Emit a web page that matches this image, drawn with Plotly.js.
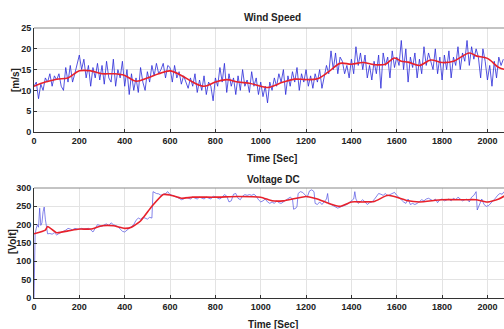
<!DOCTYPE html>
<html>
<head>
<meta charset="utf-8">
<script src="https://cdn.plot.ly/plotly-3.0.1.min.js"></script>
<style>html,body{margin:0;padding:0;background:#fff;}#chart{width:504px;height:329px;}</style>
</head>
<body>
<div id="chart"></div>
<script>
// Wind speed, raw (every 10 s from 0)
const windRaw = [
 11, 12, 8, 11.5, 10, 13, 12, 14, 11, 13.5,
 12.5, 14, 11, 10, 15.5, 12, 16, 12, 14, 16.5,
 18.5, 15, 17.5, 13, 16, 11, 15.5, 13, 16.5, 12.5,
 16, 11.5, 17, 13, 12, 17.5, 11, 15, 13, 17,
 11, 15, 9, 14, 10, 13, 9.5, 15.5, 12, 10,
 14.5, 12, 16, 13.5, 16.5, 14, 15, 16.5, 13, 16,
 15.5, 12, 16, 13, 14.5, 11.5, 13.5, 12, 10.5, 13,
 11, 14, 9.5, 12.5, 10, 13.5, 9, 12, 11, 7.5,
 13, 11, 15.5, 12, 16.5, 9.5, 14, 11, 13, 9,
 13.5, 10, 15, 11, 12.5, 9.5, 14.5, 11, 13, 9,
 12, 8.5, 11, 7, 12, 10, 13, 11, 14, 12,
 15, 9, 13.5, 11, 14.5, 12, 15.5, 10, 14, 12,
 15, 11, 13.5, 10.5, 14, 12, 15, 10.5, 13, 16,
 14, 19.5, 15, 19, 14, 18, 17, 14, 16, 13,
 17.5, 14, 20.5, 16, 19, 15, 18.5, 13, 16, 12.5,
 17, 14, 18.5, 10.5, 19, 16, 18, 13, 19.5, 15.5,
 18, 16, 22, 15, 20, 12, 18, 15.5, 19, 13,
 17.5, 14, 20.5, 16, 19, 17, 15, 20, 14, 18,
 12.5, 18.5, 15, 19.5, 13, 18, 16, 20.5, 15, 19,
 17, 22, 16, 20.5, 17.5, 20, 18, 13, 20, 17,
 12.5, 16, 11, 17, 13, 18, 16, 17.5
];
const windRawTime = windRaw.map((v, i) => i * 10);

// Wind speed, smoothed
const windSmoothTime = [0,50,100,150,200,250,300,350,400,450,500,550,600,650,700,750,800,850,900,950,1000,1030,1100,1150,1200,1250,1300,1350,1400,1450,1500,1550,1590,1620,1650,1700,1750,1800,1850,1920,1950,2000,2050,2080];
const windSmooth = [11,12,12.7,13,14.7,14.7,14,14,13.6,12.2,13,14,14.7,13.6,12,11,12,12.6,12,11.7,11,10.7,12,12.7,12.6,12.8,14.5,16.5,16.3,16.7,16.2,16.3,17.8,17,16.8,16,17.3,16.7,17,19,18.3,17.7,15.5,15];

// Voltage DC, raw
const voltRawTime = [0,5,10,15,20,25,30,35,40,45,50,55,60,70,80,90,100,110,120,130,140,150,160,170,180,190,200,210,220,230,240,250,260,270,280,290,300,310,320,330,340,350,360,370,380,390,400,410,420,430,440,450,460,470,480,490,500,510,520,525,530,540,550,560,570,580,590,600,610,620,630,640,650,660,670,680,690,700,710,720,730,740,750,760,770,780,790,800,810,820,830,840,850,860,870,880,890,900,910,920,930,940,950,960,970,980,990,1000,1010,1020,1030,1040,1050,1060,1070,1080,1090,1100,1110,1120,1130,1140,1145,1155,1160,1165,1175,1185,1195,1205,1215,1225,1235,1240,1250,1260,1270,1280,1290,1295,1300,1310,1320,1330,1340,1350,1360,1370,1380,1390,1400,1410,1415,1420,1430,1440,1450,1460,1470,1480,1490,1500,1510,1520,1530,1540,1550,1560,1570,1580,1590,1600,1610,1620,1630,1640,1650,1660,1670,1680,1690,1700,1710,1720,1730,1740,1750,1760,1770,1780,1790,1800,1810,1820,1830,1840,1850,1860,1870,1880,1890,1900,1910,1920,1930,1940,1950,1955,1965,1975,1985,1995,2005,2015,2025,2035,2045,2055,2065,2073];
const voltRaw = [0,175,190,200,193,245,198,205,235,248,215,200,175,176,174,178,172,176,180,182,185,190,188,186,190,188,187,190,188,189,190,186,180,190,200,198,195,200,202,198,205,200,198,195,188,182,180,185,190,195,200,212,218,215,220,218,215,220,218,290,288,285,284,280,283,285,290,282,280,278,275,272,268,270,275,272,270,275,273,270,275,272,270,275,273,270,278,275,272,270,275,282,278,262,265,283,285,272,268,278,282,280,282,280,283,278,268,262,265,270,262,258,262,258,265,260,258,262,268,272,275,270,242,245,250,285,290,288,280,275,292,295,290,258,255,262,255,262,270,285,260,255,252,250,245,248,250,252,255,260,265,270,290,270,258,262,268,262,255,260,262,268,278,285,283,280,285,278,282,285,288,280,275,268,262,258,270,255,258,255,258,262,268,265,270,272,268,265,270,260,268,270,265,268,270,265,272,268,275,270,265,268,270,262,275,280,290,240,255,270,255,250,252,258,265,272,280,285,283,290];

// Voltage DC, smoothed
const voltSmoothTime = [0,50,60,100,150,200,250,300,350,400,430,470,520,570,600,650,700,800,900,1000,1050,1100,1200,1250,1300,1350,1400,1450,1500,1560,1600,1650,1700,1800,1900,1950,2000,2050,2080];
const voltSmooth = [175,185,195,178,183,188,188,197,197,190,193,210,250,282,281,272,275,275,277,275,265,265,277,270,258,250,262,262,263,280,275,265,262,268,268,268,262,270,280];

const xTicks = [0,200,400,600,800,1000,1200,1400,1600,1800,2000];

const FONT = '"Liberation Sans Narrow", "Arial Narrow", "Liberation Sans", Arial, sans-serif';
const blue = '#2a2ad8';
const red = '#e8212b';

const traces = [
  {x: windRawTime, y: windRaw, xaxis: 'x', yaxis: 'y', mode: 'lines', line: {color: blue, width: 0.8}, hoverinfo: 'skip'},
  {x: windSmoothTime, y: windSmooth, xaxis: 'x', yaxis: 'y', mode: 'lines', line: {color: red, width: 1.6, shape: 'spline'}, hoverinfo: 'skip'},
  {x: voltRawTime, y: voltRaw, xaxis: 'x2', yaxis: 'y2', mode: 'lines', line: {color: '#4a4ae0', width: 0.8}, opacity: 0.85, hoverinfo: 'skip'},
  {x: voltSmoothTime, y: voltSmooth, xaxis: 'x2', yaxis: 'y2', mode: 'lines', line: {color: red, width: 1.6, shape: 'spline', smoothing: 0.5}, hoverinfo: 'skip'}
];

const H = 329;
const py = p => 1 - p / H;
const axX = (anchor) => ({
  range: [0, 2073], anchor: anchor, tickvals: xTicks, ticktext: xTicks.map(String),
  showgrid: true, gridcolor: '#e3e3e3', gridwidth: 1, zeroline: false,
  showline: true, linecolor: '#333', linewidth: 1,
  ticks: 'inside', ticklen: 3, tickcolor: '#333',
  tickfont: {family: FONT, size: 9, color: '#222', weight: 'bold'}
});
const axY = (anchor, dom, rng, dt) => ({
  domain: dom, range: rng, anchor: anchor, dtick: dt, tick0: 0,
  showgrid: true, gridcolor: '#e3e3e3', gridwidth: 1, zeroline: false,
  showline: true, linecolor: '#333', linewidth: 1,
  ticks: 'inside', ticklen: 3, tickcolor: '#333',
  tickfont: {family: FONT, size: 9, color: '#222', weight: 'bold'}
});

const ann = (text, xpx, ypx, size, rot) => ({
  text: '<b>' + text + '</b>', xref: 'paper', yref: 'paper',
  x: (xpx - 34) / 470, y: py(ypx), xanchor: 'center', yanchor: 'middle',
  showarrow: false, textangle: rot || 0, font: {family: FONT, size: size, color: '#222'}
});

const layout = {
  width: 504, height: 329,
  margin: {l: 34, r: 0, t: 0, b: 0},
  paper_bgcolor: '#fff', plot_bgcolor: '#fff',
  showlegend: false,
  xaxis: axX('y'),
  yaxis: axY('x', [py(132), py(28)], [0, 25], 5),
  xaxis2: axX('y2'),
  yaxis2: axY('x2', [py(298), py(188)], [0, 300], 50),
  shapes: [
    {type: 'line', xref: 'paper', yref: 'paper', x0: 0, x1: 1, y0: py(28), y1: py(28), line: {color: '#888', width: 1}},
    {type: 'line', xref: 'paper', yref: 'paper', x0: 0, x1: 1, y0: py(188), y1: py(188), line: {color: '#888', width: 1}}
  ],
  annotations: [
    ann('Wind Speed', 272, 18, 10),
    ann('Time [Sec]', 272, 158, 10),
    ann('[m/s]', 15, 80, 10, -90),
    ann('Voltage DC', 273, 179, 10),
    ann('Time [Sec]', 273, 324, 10),
    ann('[Volt]', 12, 242, 10, -90)
  ]
};

Plotly.newPlot('chart', traces, layout, {staticPlot: true, displayModeBar: false});
</script>
</body>
</html>
